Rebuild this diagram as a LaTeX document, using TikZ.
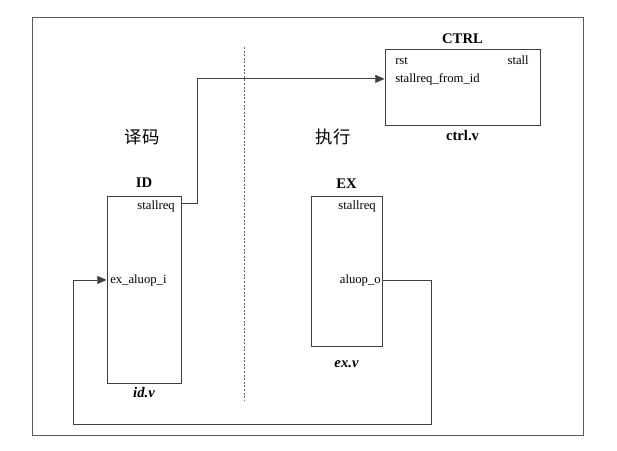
\documentclass[tikz,border=0pt]{standalone}
\usepackage{fontspec}
\setmainfont{Liberation Serif}
\newfontfamily\cjk{Noto Sans CJK SC}
\usetikzlibrary{arrows.meta,fit,positioning}
\tikzset{
  blk/.style={draw=black!75, line width=0.6pt, inner sep=0pt},
  port/.style={font=\fontsize{9.5}{11}\selectfont, inner sep=0pt},
  ttl/.style={font=\fontsize{11}{13}\selectfont\bfseries, inner sep=0pt, anchor=base},
  fname/.style={font=\fontsize{11}{13}\selectfont\bfseries\itshape, inner sep=0pt, anchor=base},
  sig/.style={draw=black!75, line width=0.6pt},
  stage/.style={font=\fontsize{13}{15}\selectfont\cjk},
  tip/.style={-{Triangle[length=7pt,width=6pt]}}
}
\begin{document}
\begin{tikzpicture}[x=0.75pt,y=-0.75pt]
  \useasboundingbox (0,0) rectangle (617,450);
  \draw[black!65, line width=0.6pt] (32,17) rectangle (583,435); % frame
  \draw[black!60, dash pattern=on 1.5pt off 1.2pt] (244,47) -- (244,401); % stage border
  \node[stage] (dec) at (142,137) {译码};
  \node[stage] (exe) at (333,137) {执行};

  % modules
  \node[blk, fit={(385,49) (540,125)}] (ctrl) {};
  \node[blk, fit={(107,196) (181,383)}] (id) {};
  \node[blk, fit={(311,196) (382,346)}] (ex) {};

  \node[ttl] (ctrlname) at ([yshift=3.75pt]ctrl.north) {CTRL};
  \node[ttl] (idname) at ([yshift=6pt]id.north) {ID};
  \node[ttl] (exname) at ([yshift=5.25pt]ex.north) {EX};
  \node[ttl] (ctrlfile) at ([yshift=-11.25pt]ctrl.south) {ctrl.v};
  \node[fname] (idfile) at ([yshift=-10.5pt]id.south) {id.v};
  \node[fname] (exfile) at ([yshift=-15.75pt]ex.south) {ex.v};

  % ports
  \node[port, anchor=base west] (rst) at (395,64) {rst};
  \node[port, anchor=base east] (stall) at (529,64) {stall};
  \node[port, anchor=base west] (reqin) at (395,82) {stallreq\_from\_id};
  \node[port, anchor=base east] (idreq) at (175,209) {stallreq};
  \node[port, anchor=base west] (aluin) at (110,283) {ex\_aluop\_i};
  \node[port, anchor=base east] (exreq) at (376,209) {stallreq};
  \node[port, anchor=base east] (aluout) at (381,283) {aluop\_o};

  % signals
  \draw[sig, tip] ([yshift=2pt]idreq.east -| id.east) -- ++(16,0) |- (reqin.west -| ctrl.west);
  \coordinate (loop) at (73,424);
  \draw[sig, tip] (aluout.east -| ex.east) -- ++(49,0) |- (loop) |- (aluin.west -| id.west);
\end{tikzpicture}
\end{document}
